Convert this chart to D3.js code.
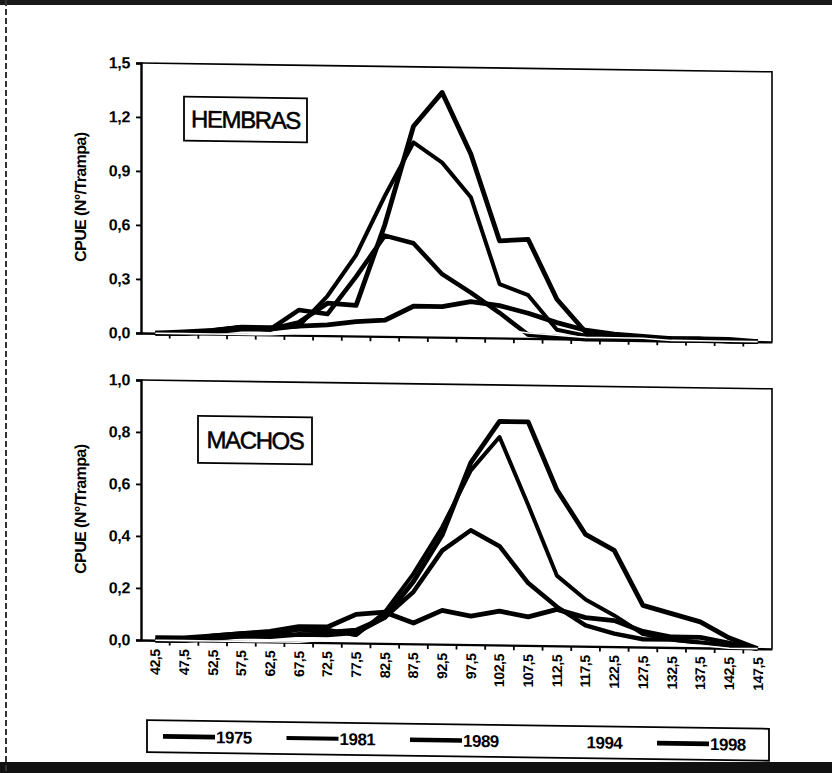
<!DOCTYPE html>
<html>
<head>
<meta charset="utf-8">
<script src="https://cdn.jsdelivr.net/npm/d3@7"></script>
<style>
  body { margin: 0; background: #fff; }
  svg { display: block; font-family: "Liberation Sans", Arial, sans-serif; }
</style>
</head>
<body>
<div id="chart"></div>
<script>
// size classes (mm), one point per class
const categories = ["42,5","47,5","52,5","57,5","62,5","67,5","72,5","77,5","82,5","87,5","92,5",
  "97,5","102,5","107,5","112,5","117,5","122,5","127,5","132,5","137,5","142,5","147,5"];
const years = ["1975", "1981", "1989", "1994", "1998"];

// HEMBRAS (females), CPUE per trap
const hembras1975 = [0,0,0.01,0.03,0.03,0.07,0.18,0.17,0.62,1.17,1.36,1.02,0.54,0.55,0.22,0.04,0.02,0.01,0.01,0.01,0,0];
const hembras1981 = [0,0,0.02,0.04,0.03,0.05,0.22,0.45,0.78,1.08,0.97,0.78,0.30,0.24,0.05,0.02,0.01,0.01,0,0,0,0];
const hembras1989 = [0,0,0.02,0.04,0.03,0.14,0.12,0.33,0.56,0.52,0.35,0.25,0.14,0.02,0.01,0,0,0,0,0,0,0];
const hembras1994 = [0,0,0,0,0,0.01,0.01,0.02,0.03,0.05,0.05,0.06,0.05,0.03,0.02,0.01,0.01,0.01,0,0,0,0];
const hembras1998 = [0,0.01,0.02,0.04,0.04,0.05,0.06,0.08,0.09,0.17,0.17,0.20,0.18,0.14,0.09,0.05,0.03,0.02,0.01,0.01,0.01,0];

// MACHOS (males)
const machos1975 = [0,0,0.01,0.02,0.02,0.03,0.03,0.04,0.10,0.24,0.42,0.70,0.86,0.86,0.60,0.43,0.37,0.16,0.13,0.10,0.04,0];
const machos1981 = [0,0,0.01,0.02,0.03,0.05,0.05,0.03,0.12,0.27,0.45,0.67,0.80,0.54,0.27,0.18,0.12,0.05,0.03,0.02,0.01,0];
const machos1989 = [0,0,0.02,0.03,0.03,0.05,0.04,0.05,0.10,0.20,0.36,0.44,0.38,0.24,0.15,0.08,0.05,0.03,0.03,0.02,0.01,0];
const machos1994 = [0,0,0,0,0,0,0.01,0.02,0.02,0.03,0.04,0.05,0.05,0.04,0.03,0.02,0.02,0.01,0.01,0.01,0,0];
const machos1998 = [0.01,0.01,0.02,0.03,0.04,0.06,0.06,0.11,0.12,0.08,0.13,0.11,0.13,0.11,0.14,0.11,0.10,0.06,0.04,0.04,0.02,0];

const hembrasTicks = [0, 0.3, 0.6, 0.9, 1.2, 1.5];
const machosTicks = [0, 0.2, 0.4, 0.6, 0.8, 1.0];

const width = 832, height = 773;
const left = 141, right = 772;

// line look per year (the 1994 line is pale and barely shows on the scan)
const styles = {
  "1975": {stroke: "#000", w: 4.8},
  "1981": {stroke: "#000", w: 4.0},
  "1989": {stroke: "#000", w: 4.5},
  "1994": {stroke: "#fff", w: 1.6},
  "1998": {stroke: "#000", w: 4.8}
};

const svg = d3.select("#chart").append("svg")
  .attr("width", width)
  .attr("height", height);

// scan frame
svg.append("rect").attr("x", 0).attr("y", 0).attr("width", width).attr("height", 5).attr("fill", "#1a1a1a");
svg.append("rect").attr("x", 0).attr("y", 762).attr("width", width).attr("height", 11).attr("fill", "#111");
svg.append("line").attr("x1", 6).attr("x2", 6).attr("y1", 0).attr("y2", 773)
  .attr("stroke", "#333").attr("stroke-width", 2).attr("stroke-dasharray", "6,3");

// the scanned page is slightly skewed
const page = svg.append("g")
  .attr("transform", "translate(140,0) skewY(0.8) translate(-140,0)");

const x = d3.scaleBand().domain(categories).range([left, right]);
const xc = c => x(c) + x.bandwidth() / 2;
const fmt = d => d3.format(".1f")(d).replace(".", ",");

function panel(top, bottom, maxY, ticks, series, label, box, showLabels) {
  const y = d3.scaleLinear().domain([0, maxY]).range([bottom, top]);
  const g = page.append("g");

  // plot area frame (top and right)
  g.append("path")
    .attr("d", `M${left},${top}H${right}V${bottom}`)
    .attr("fill", "none").attr("stroke", "#000").attr("stroke-width", 1.6);

  const yAxis = g.append("g")
    .attr("transform", `translate(${left},0)`)
    .call(d3.axisLeft(y).tickValues(ticks).tickFormat(fmt).tickSize(5).tickPadding(6));
  yAxis.select(".domain").attr("stroke-width", 2.4);
  yAxis.selectAll("line").attr("stroke-width", 1.8);
  yAxis.selectAll("text")
    .attr("font-size", 16).attr("font-weight", "bold").attr("fill", "#000")
    .attr("letter-spacing", -0.3);

  const xAxis = g.append("g")
    .attr("transform", `translate(0,${bottom})`)
    .call(d3.axisBottom(x).tickSize(0).tickFormat(showLabels ? (d => d) : ""));
  xAxis.select(".domain").attr("stroke-width", 2.4);
  if (showLabels) {
    xAxis.selectAll("text")
      .attr("transform", "rotate(-90)")
      .attr("text-anchor", "end")
      .attr("x", -9).attr("y", 0).attr("dy", "0.35em")
      .attr("font-size", 14).attr("font-weight", "bold").attr("fill", "#000")
      .attr("letter-spacing", -0.4);
  }
  // tick marks sit between classes
  g.append("g").selectAll("line")
    .data(categories.slice(1))
    .join("line")
    .attr("x1", d => x(d)).attr("x2", d => x(d))
    .attr("y1", bottom).attr("y2", bottom + 5)
    .attr("stroke", "#000").attr("stroke-width", 1.8);

  g.append("text")
    .attr("transform", `translate(80,${(top + bottom) / 2}) rotate(-90)`)
    .attr("text-anchor", "middle").attr("dy", "0.35em")
    .attr("font-size", 16).attr("font-weight", "bold").attr("letter-spacing", -0.6)
    .text("CPUE (N°/Trampa)");

  const line = d3.line()
    .x((d, i) => xc(categories[i]))
    .y(d => y(d));

  series.forEach(s => {
    g.append("path")
      .datum(s.values)
      .attr("d", line)
      .attr("fill", "none")
      .attr("stroke", styles[s.year].stroke)
      .attr("stroke-width", styles[s.year].w)
      .attr("stroke-linejoin", "round");
  });

  // title box
  g.append("rect")
    .attr("x", box[0]).attr("y", box[1]).attr("width", box[2]).attr("height", box[3])
    .attr("fill", "#fff").attr("stroke", "#000").attr("stroke-width", 1.8);
  g.append("text")
    .attr("x", box[0] + box[2] / 2).attr("y", box[1] + box[3] / 2)
    .attr("text-anchor", "middle").attr("dy", "0.36em")
    .attr("font-size", 24).attr("letter-spacing", -1.4)
    .attr("stroke", "#000").attr("stroke-width", 0.5)
    .text(label);
}

panel(63, 333, 1.5, hembrasTicks, [
  {year: "1975", values: hembras1975},
  {year: "1981", values: hembras1981},
  {year: "1989", values: hembras1989},
  {year: "1998", values: hembras1998},
  {year: "1994", values: hembras1994}
], "HEMBRAS", [184, 96, 123, 44], false);

panel(380, 640, 1.0, machosTicks, [
  {year: "1975", values: machos1975},
  {year: "1981", values: machos1981},
  {year: "1989", values: machos1989},
  {year: "1998", values: machos1998},
  {year: "1994", values: machos1994}
], "MACHOS", [198, 415, 114, 47], true);

// legend
const legend = page.append("g");
legend.append("rect")
  .attr("x", 147).attr("y", 720).attr("width", 622).attr("height", 32)
  .attr("fill", "#fff").attr("stroke", "#000").attr("stroke-width", 1.8);
const legendX = d3.scalePoint().domain(years).range([163, 657]);
const item = legend.selectAll("g.item")
  .data(years)
  .join("g")
  .attr("class", "item")
  .attr("transform", d => `translate(${legendX(d)},736)`);
item.append("line")
  .attr("x1", 0).attr("x2", 52)
  .attr("stroke", d => d === "1994" ? "#fff" : "#000")
  .attr("stroke-width", d => styles[d].w);
item.append("text")
  .attr("x", 53).attr("dy", "0.36em")
  .attr("font-size", 17).attr("font-weight", "bold").attr("letter-spacing", -0.5)
  .text(d => d);
</script>
</body>
</html>
